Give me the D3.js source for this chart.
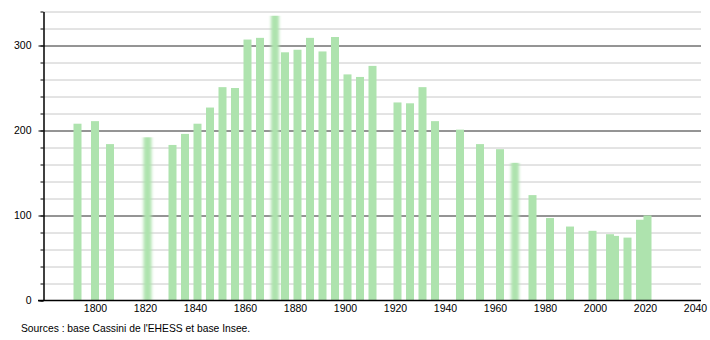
<!DOCTYPE html>
<html>
<head>
<meta charset="utf-8">
<script src="https://cdn.jsdelivr.net/npm/d3@7"></script>
<style>
    body { margin: 0; background: #fff; }
    svg { display: block; font-family: "Liberation Sans", Arial, sans-serif; }
</style>
</head>
<body>
<div id="chart"></div>
<script>
// census years and population
const years = [1793, 1800, 1806, 1821, 1831, 1836, 1841, 1846, 1851, 1856,
    1861, 1866, 1872, 1876, 1881, 1886, 1891, 1896, 1901, 1906, 1911,
    1921, 1926, 1931, 1936, 1946, 1954, 1962, 1968, 1975, 1982, 1990,
    1999, 2006, 2008, 2013, 2018, 2021];
const population = [208, 211, 184, 192, 183, 196, 208, 227, 251, 250,
    307, 309, 335, 292, 295, 309, 293, 310, 266, 263, 276,
    233, 232, 251, 211, 201, 184, 178, 162, 124, 97, 87,
    82, 78, 76, 74, 95, 100];
// bars that look smeared in the source picture
const blurred = [1821, 1872, 1968];

const majorTicks = [0, 100, 200, 300];
const minorTicks = d3.range(0, 341, 20);
const yearTicks = d3.range(1800, 2041, 20);
const source = "Sources : base Cassini de l'EHESS et base Insee.";

const width = 710;
const height = 340;

const svg = d3.select("#chart")
    .append("svg")
    .attr("width", width)
    .attr("height", height);

const defs = svg.append("defs");
defs.append("filter")
    .attr("id", "smear")
    .attr("x", "-50%").attr("width", "200%")
    .append("feGaussianBlur")
    .attr("stdDeviation", "1.4 0");

const x = d3.scaleLinear()
    .domain([1779.4, 2042.4])
    .range([43.5, 701]);

const y = d3.scaleLinear()
    .domain([0, 340])
    .range([300.5, 11.5]);

// minor grid
svg.append("g")
    .attr("transform", "translate(43.5,0)")
    .call(d3.axisRight(y).tickValues(minorTicks.filter(d => d % 100 !== 0)).tickSize(657.5).tickFormat(""))
    .call(g => g.select(".domain").remove())
    .call(g => g.selectAll(".tick line").attr("stroke", "#c8c8c8"));

// major grid
svg.append("g")
    .attr("transform", "translate(43.5,0)")
    .call(d3.axisRight(y).tickValues(majorTicks.slice(1)).tickSize(657.5).tickFormat(""))
    .call(g => g.select(".domain").remove())
    .call(g => g.selectAll(".tick line").attr("stroke", "#2a2a2a"));

// bars
const bw = x(1801.6) - x(1800);
svg.append("g")
    .selectAll("rect")
    .data(years)
    .join("rect")
    .attr("x", (d) => x(d) - bw)
    .attr("width", bw * 2)
    .attr("y", (d, i) => y(population[i]))
    .attr("height", (d, i) => y(0) - y(population[i]))
    .attr("fill", "#aee3ae")
    .attr("filter", (d) => blurred.includes(d) ? "url(#smear)" : null);

// y axis, minor ticks
svg.append("g")
    .attr("transform", "translate(43.5,0)")
    .call(d3.axisLeft(y).tickValues(minorTicks).tickSize(3).tickFormat(""))
    .call(g => g.select(".domain").remove())
    .call(g => g.selectAll(".tick line").attr("stroke", "#000"));

// y axis, major ticks + labels
svg.append("g")
    .attr("transform", "translate(43.5,0)")
    .call(d3.axisLeft(y).tickValues(majorTicks).tickSize(5).tickPadding(7).tickSizeOuter(0))
    .call(g => g.select(".domain").attr("stroke", "#000").attr("stroke-width", 1.5))
    .call(g => g.selectAll("text").attr("font-size", 10.5).attr("fill", "#000").attr("font-family", "Liberation Sans, Arial, sans-serif"));

// x axis
svg.append("g")
    .attr("transform", `translate(0,${y(0)})`)
    .call(d3.axisBottom(x).tickValues(yearTicks).tickSize(0).tickPadding(4).tickFormat(d3.format("d")))
    .call(g => g.select(".domain").attr("d", `M38,0H701`).attr("stroke", "#000").attr("stroke-width", 1.5))
    .call(g => g.selectAll("text").attr("font-size", 10.5).attr("fill", "#000").attr("font-family", "Liberation Sans, Arial, sans-serif"));

svg.append("text")
    .attr("x", 21)
    .attr("y", 332)
    .attr("font-size", 10.3)
    .attr("fill", "#000")
    .text(source);
</script>
</body>
</html>
